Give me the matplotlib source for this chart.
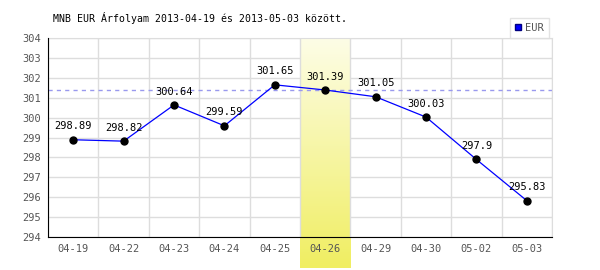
import numpy as np
import matplotlib
matplotlib.use("Agg")
import matplotlib.pyplot as plt
from matplotlib.colors import LinearSegmentedColormap
from matplotlib.lines import Line2D

dates = ["04-19", "04-22", "04-23", "04-24", "04-25", "04-26", "04-29", "04-30", "05-02", "05-03"]
eur = [298.89, 298.82, 300.64, 299.59, 301.65, 301.39, 301.05, 300.03, 297.9, 295.83]
highlight = 5  # 04-26
title = "MNB EUR Árfolyam 2013-04-19 és 2013-05-03 között."

plt.rcParams["font.family"] = ["DejaVu Sans Mono", "DejaVu Sans"]

fig = plt.figure(figsize=(6, 2.7), dpi=100)
ax = fig.add_axes([0.08, 0.122, 0.84, 0.737])

x = np.arange(len(dates))

# grid
ax.set_yticks(np.arange(294, 305, 1))
ax.set_xticks(x)
ax.set_xticklabels(dates)
ax.set_xticks(np.arange(-0.5, len(dates), 1), minor=True)
ax.grid(True, which="major", axis="y", color="#dddddd", lw=1)
ax.grid(True, which="minor", axis="x", color="#dddddd", lw=1)
ax.set_axisbelow(True)
ax.xaxis.set_zorder(1.5)  # x labels/grid above the band
ax.tick_params(axis="both", which="both", length=0, labelsize=7.5, colors="#555555", pad=5)

for s in ["top", "right"]:
    ax.spines[s].set_color("#dddddd")
for s in ["left", "bottom"]:
    ax.spines[s].set_color("black")
    ax.spines[s].set_zorder(5)

# highlighted day band (gradient, runs under the tick label)
cmap = LinearSegmentedColormap.from_list("band", ["#fdfde6", "#f0ee62"])
grad = np.linspace(0, 1, 100).reshape(-1, 1)
x0 = highlight / len(dates)
x1 = (highlight + 1) / len(dates)
ax.imshow(grad, cmap=cmap, aspect="auto", extent=[x0, x1, -0.155, 1],
          transform=ax.transAxes, clip_on=False, zorder=1, origin="upper")
ax.set_xlim(-0.5, len(dates) - 0.5)
ax.set_ylim(294, 304)

# reference line at highlighted value
ax.axhline(eur[highlight], color="#9999ee", lw=1, ls=(0, (3, 3)), zorder=2)

ax.plot(x, eur, color="blue", lw=0.9, zorder=3, label="EUR")
ax.plot(x, eur, "o", color="black", ms=5, zorder=4)
for xi, v in zip(x, eur):
    ax.annotate(f"{v:g}", (xi, v), xytext=(0, 6), textcoords="offset points",
                ha="center", va="bottom", fontsize=7.5, color="black", zorder=6)

fig.text(0.088, 0.935, title, fontsize=7.1, color="black", ha="left", va="center")

h = Line2D([], [], marker="s", color="blue", ls="none", ms=5, markeredgecolor="#000080")
leg = fig.legend([h], ["EUR"], loc="upper left", bbox_to_anchor=(0.85, 0.935),
                 fontsize=7.5, frameon=True, fancybox=False, handlelength=0.6,
                 handletextpad=0.3, borderpad=0.5, borderaxespad=0)
leg.get_frame().set_edgecolor("#dddddd")
leg.get_frame().set_linewidth(1)
for t in leg.get_texts():
    t.set_color("#555555")

fig.savefig("out.png", dpi=100)
